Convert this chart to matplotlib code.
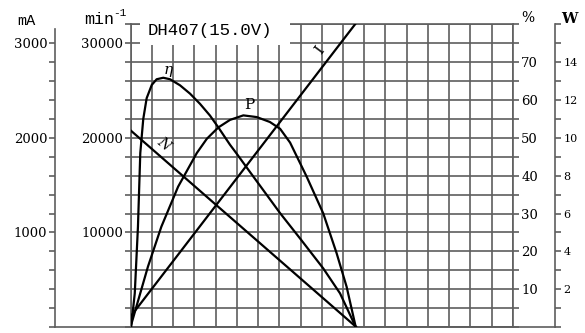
import matplotlib
matplotlib.use("Agg")
import matplotlib.pyplot as plt
from matplotlib.patches import Rectangle

# torque axis has no scale in the original, so x is in grid divisions
speed_torque = [0.0, 10.62]
speed_rpm = [20800, 0]

current_torque = [0.0, 10.65]
current_ma = [110, 3225]

eff_torque = [0.03, 0.2, 0.35, 0.46, 0.60, 0.76, 1.0, 1.23, 1.54, 1.86,
              2.33, 2.80, 3.27, 3.74, 4.13, 4.68, 5.0, 5.62, 7.04, 7.98,
              9.07, 9.86, 10.6]
eff_pct = [0.0, 8.9, 26.5, 46.0, 55.0, 60.5, 64.0, 65.5, 65.9, 65.5,
           63.9, 61.7, 59.0, 55.9, 52.8, 48.2, 45.8, 41.0, 30.1, 23.4,
           15.5, 8.9, 0.0]

power_torque = [0.0, 0.82, 1.45, 2.24, 3.12, 3.59, 4.13, 4.68, 5.31, 5.94,
                6.56, 7.04, 7.51, 8.29, 9.07, 9.70, 10.17, 10.6]
power_w = [0.0, 3.19, 5.30, 7.42, 9.20, 9.95, 10.55, 10.95, 11.19, 11.10,
           10.84, 10.48, 9.75, 7.95, 6.01, 3.90, 2.13, 0.0]

rpm_labels = [10000, 20000, 30000]
pct_labels = [10, 20, 30, 40, 50, 60, 70]
ma_labels = [1000, 2000, 3000]
w_labels = [2, 4, 6, 8, 10, 12, 14]

GRID = "#5e5e5e"
SERIF = "DejaVu Serif"
MONO = "Liberation Mono"


def main():
    fig = plt.figure(figsize=(5.85, 3.33), dpi=100)
    ax = fig.add_axes([0.2231, 0.0180, 0.6538, 0.9087])

    # speed axis and the grid
    ax.set_xlim(0, 18)
    ax.set_ylim(0, 32000)
    ax.set_xticks(range(0, 19))
    ax.set_xticklabels([])
    ax.set_yticks(range(0, 32001, 2000))
    ax.set_yticklabels([str(v) if v in rpm_labels else "" for v in range(0, 32001, 2000)],
                       fontfamily=SERIF, fontsize=9.5)
    ax.tick_params(axis="x", length=0)
    ax.tick_params(axis="y", direction="out", length=4, width=1.2, color=GRID, pad=1.5)
    ax.grid(True, color=GRID, linewidth=1.2)
    for s in ax.spines.values():
        s.set_color(GRID)
        s.set_linewidth(1.2)
    ax.set_axisbelow(True)
    ax.plot(speed_torque, speed_rpm, color="black", lw=1.6, zorder=4)

    # efficiency on the right edge of the grid
    ax_pct = ax.twinx()
    ax_pct.set_ylim(0, 80)
    ax_pct.set_yticks(range(0, 81, 5))
    ax_pct.set_yticklabels([str(v) if v in pct_labels else "" for v in range(0, 81, 5)],
                           fontfamily=SERIF, fontsize=9.5)
    ax_pct.tick_params(axis="y", direction="out", length=4, width=1.2, color=GRID, pad=2)
    for s in ax_pct.spines.values():
        s.set_visible(False)
    ax_pct.plot(eff_torque, eff_pct, color="black", lw=1.6, solid_joinstyle="round")

    # current axis, far left
    ax_i = ax.twinx()
    ax_i.set_ylim(0, 3200)
    ax_i.yaxis.set_ticks_position("left")
    ax_i.yaxis.set_label_position("left")
    for k in ["top", "bottom", "right"]:
        ax_i.spines[k].set_visible(False)
    ax_i.spines["left"].set_position(("axes", -0.1974))
    ax_i.spines["left"].set_bounds(0, 3150)
    ax_i.spines["left"].set_color(GRID)
    ax_i.spines["left"].set_linewidth(1.2)
    ax_i.set_yticks(range(0, 3001, 200))
    ax_i.set_yticklabels([str(v) if v in ma_labels else "" for v in range(0, 3001, 200)],
                         fontfamily=SERIF, fontsize=9.5)
    ax_i.tick_params(axis="y", direction="out", length=4, width=1.2, color=GRID, pad=1.5)
    ax_i.plot(current_torque, current_ma, color="black", lw=1.6)

    # output power axis, far right
    ax_w = ax.twinx()
    ax_w.set_ylim(0, 16)
    for k in ["top", "bottom", "left"]:
        ax_w.spines[k].set_visible(False)
    ax_w.spines["right"].set_position(("axes", 1.1098))
    ax_w.spines["right"].set_color(GRID)
    ax_w.spines["right"].set_linewidth(1.2)
    ax_w.set_yticks(range(0, 17))
    ax_w.set_yticklabels([str(v) if v in w_labels else "" for v in range(0, 17)],
                         fontfamily=SERIF, fontsize=8)
    ax_w.tick_params(axis="y", direction="out", length=4, width=1.2, color=GRID, pad=2)
    ax_w.plot(power_torque, power_w, color="black", lw=1.6, solid_joinstyle="round")

    # bottom line joining the outer axes
    ax.plot([-0.1974, 1.1098], [0, 0], transform=ax.transAxes, clip_on=False,
            color=GRID, lw=1.2)

    # white patch behind the title
    ax.add_patch(Rectangle((0.0248, 0.932), 0.392, 0.1, transform=ax.transAxes,
                           facecolor="white", edgecolor="none", clip_on=False, zorder=3))
    ax.text(0.208, 0.980, "DH407(15.0V)", transform=ax.transAxes, ha="center", va="center",
            fontfamily=MONO, fontsize=12.5, zorder=5)

    # curve names
    ax.text(1.76, 27200, "\u03b7", fontfamily=SERIF, style="italic", fontsize=11,
            ha="center", va="center", zorder=5)
    ax.text(1.53, 19400, "N", fontfamily=SERIF, style="italic", fontsize=10,
            ha="center", va="center", rotation=-40, zorder=5)
    ax.text(5.58, 23500, "P", fontfamily=SERIF, fontsize=11,
            ha="center", va="center", zorder=5)
    ax.text(8.92, 29300, "I", fontfamily=SERIF, fontsize=11,
            ha="center", va="center", rotation=53, zorder=5)

    # unit labels
    fig.text(0.0453, 0.937, "mA", fontfamily=MONO, fontsize=11, ha="center", va="center")
    fig.text(0.169, 0.940, "min", fontfamily=MONO, fontsize=12, ha="center", va="center")
    fig.text(0.205, 0.960, "-1", fontfamily=MONO, fontsize=8, ha="center", va="center")
    fig.text(0.9017, 0.947, "%", fontfamily=SERIF, fontsize=10, ha="center", va="center")
    fig.text(0.9726, 0.943, "W", fontfamily=SERIF, fontsize=10.5, fontweight="bold",
             ha="center", va="center")

    fig.savefig("out.png", dpi=100)


if __name__ == '__main__':
    main()
